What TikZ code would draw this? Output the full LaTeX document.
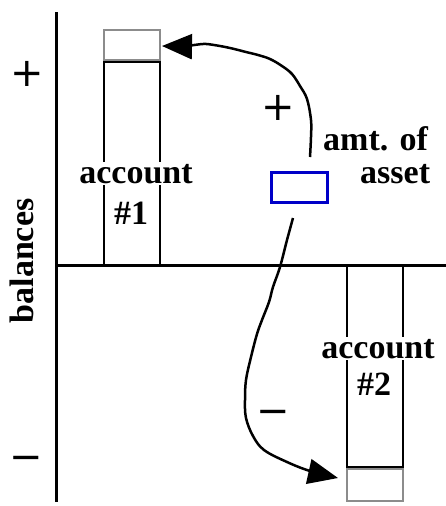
\documentclass[tikz,border=0pt]{standalone}
\usepackage{fontspec}
\setmainfont{Liberation Serif}
\newfontfamily\symfont{DejaVu Sans}
\usetikzlibrary{arrows.meta}
\tikzset{
  lbl/.style={font=\fontsize{34}{40}\selectfont\bfseries, inner sep=1.5pt, anchor=base},
  lblw/.style={lbl, fill=white},
  sgn/.style={font=\symfont\fontsize{40}{44}\selectfont, inner sep=0pt},
  acct/.style={draw=black, line width=2.6pt, minimum width=56pt, inner sep=0pt},
  incr/.style={draw=gray!90, line width=2.6pt, minimum width=56pt, inner sep=0pt},
  assetbox/.style={draw={rgb,255:red,0;green,0;blue,200}, line width=2.4pt, minimum width=56pt, minimum height=30pt, inner sep=0pt},
  axis/.style={line width=3pt},
  flow/.style={line width=2.5pt, -{Triangle[length=30pt,width=25pt]}},
}
\begin{document}
\begin{tikzpicture}[x=1pt,y=-1pt]
\useasboundingbox (0,0) rectangle (446,506);
% axes
\coordinate (ytop) at (56,12);
\coordinate (ybot) at (56,502);
\coordinate (xl) at (56,265);
\coordinate (xr) at (446,265);
\draw[axis] (ytop) -- (ybot);
\draw[axis] (xl) -- (xr);
% boxes
\node[acct, minimum height=203pt] (acc1) at (132,163.5) {};
\node[incr, minimum height=30pt] (inc1) at (132,45) {};
\node[acct, minimum height=202pt] (acc2) at (375,366) {};
\node[incr, minimum height=32pt] (inc2) at (375,485) {};
\node[assetbox] (asset) at (299.5,187.5) {};
% labels
\node[lblw] (a1) at (136,183) {account};
\node[lbl] (n1) at (131,224) {\#1};
\node[lblw] (a2) at (378,358) {account};
\node[lbl] (n2) at (374,395) {\#2};
\node[lbl, anchor=base west, inner sep=0pt] (amt) at (323,150) {amt. of};
\node[lbl, anchor=base west, inner sep=0pt] (ast) at (360,183) {asset};
\node[lbl, rotate=90, inner sep=0pt] (bal) at (33,261) {balances};
\node[sgn] (plusL) at (27.5,73.5) {+};
\node[sgn] (minusL) at (26,463) {−};
\node[sgn] (plusC) at (278,108) {+};
\node[sgn] (minusC) at (273,417) {−};
% flows
\draw[flow] plot[smooth, tension=0.6] coordinates {(310,157) (311,137) (311,120) (307,99) (300,86) (292,74) (282,66) (270,59) (258,55) (246,52) (230,48) (214,45) (203,44) (185,46) (162,46)};
\draw[flow] plot[smooth, tension=0.6] coordinates {(293,218) (287,240) (280,267) (273,287) (269,302) (262,320) (257,334) (251,357) (246,380) (245,400) (246,418) (253,436) (264,450) (287,462) (310,471) (338,478)};
\end{tikzpicture}
\end{document}
